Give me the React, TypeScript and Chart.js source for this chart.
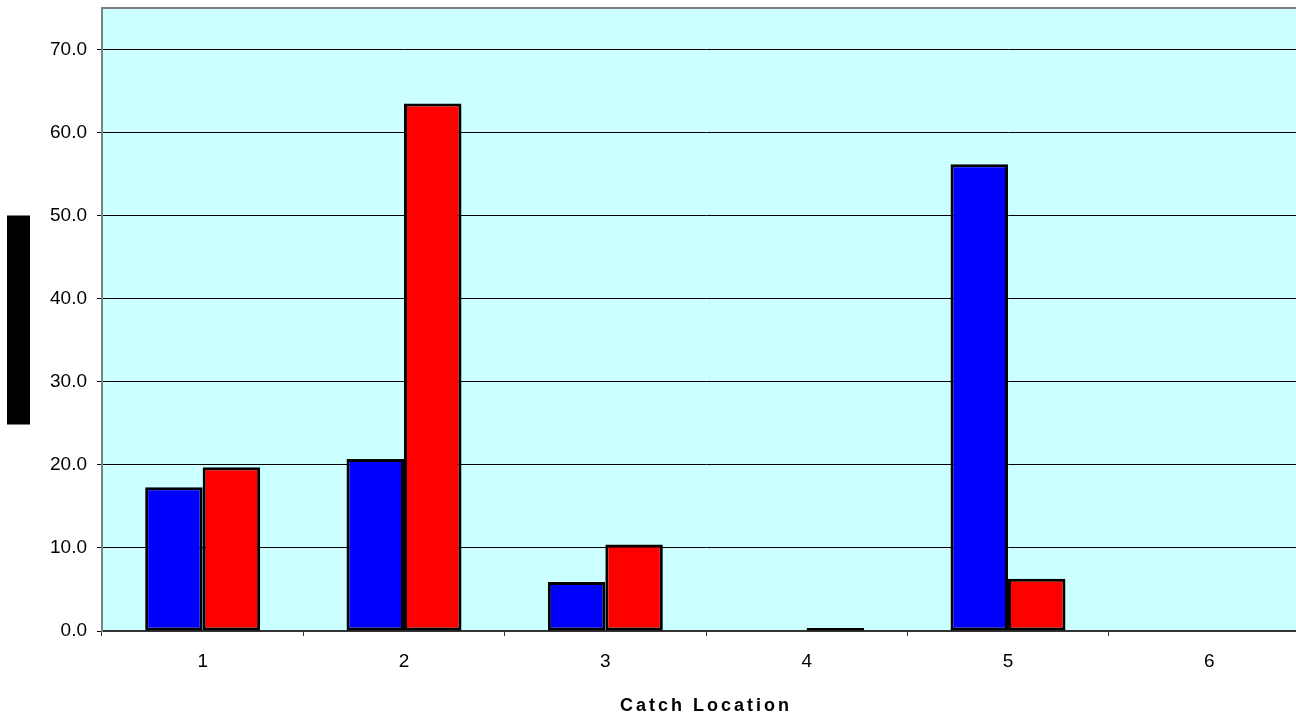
import React, { useEffect, useRef } from "react";
import { Chart, registerables } from "chart.js";

Chart.register(...registerables);

const categories = ["1", "2", "3", "4", "5", "6"];
const blueValues = [17.3, 20.7, 5.9, 0, 56.2, 0];
const redValues = [19.7, 63.5, 10.4, 0.35, 6.3, 0];
const xTitle = "Catch Location";

const FONT = "'Liberation Sans', Arial, sans-serif";

const plotPlugin = {
  id: "plotDeco",
  beforeDraw(chart: any) {
    const { ctx, chartArea } = chart;
    ctx.save();
    ctx.fillStyle = "#CCFFFF";
    ctx.fillRect(chartArea.left, chartArea.top, chartArea.right - chartArea.left, chartArea.bottom - chartArea.top);
    ctx.restore();
  },
  afterDraw(chart: any) {
    const { ctx, chartArea } = chart;
    ctx.save();
    // top border
    ctx.strokeStyle = "#808080";
    ctx.lineWidth = 2;
    ctx.beginPath();
    ctx.moveTo(chartArea.left, chartArea.top);
    ctx.lineTo(chartArea.right, chartArea.top);
    ctx.stroke();
    // obscured y-axis title block
    const mid = (chartArea.top + chartArea.bottom) / 2;
    ctx.fillStyle = "#000";
    ctx.fillRect(7, mid - 104, 23, 209);
    // x axis title with letter spacing
    ctx.fillStyle = "#000";
    ctx.font = `bold 18px ${FONT}`;
    (ctx as any).letterSpacing = "3px";
    ctx.textAlign = "center";
    ctx.textBaseline = "middle";
    ctx.fillText(xTitle, (chartArea.left + chartArea.right) / 2, 706);
    ctx.restore();
  },
};

export default function App() {
  const ref = useRef<HTMLCanvasElement>(null);
  useEffect(() => {
    if (!ref.current) return;
    const chart = new Chart(ref.current, {
      type: "bar",
      data: {
        labels: categories,
        datasets: [
          {
            data: blueValues,
            backgroundColor: "#0000FF",
            borderColor: "#000",
            borderWidth: 3,
            borderSkipped: false,
            categoryPercentage: 0.571,
            barPercentage: 1,
          },
          {
            data: redValues,
            backgroundColor: "#FF0000",
            borderColor: "#000",
            borderWidth: 3,
            borderSkipped: false,
            categoryPercentage: 0.571,
            barPercentage: 1,
          },
        ],
      },
      options: {
        animation: false,
        responsive: false,
        maintainAspectRatio: false,
        layout: { padding: { top: 8, right: 1, left: 0, bottom: 0 } },
        plugins: {
          legend: { display: false },
          tooltip: { enabled: false },
          title: { display: false },
        },
        scales: {
          x: {
            afterFit: (s: any) => {
              s.height = 88;
              s.paddingLeft = 0;
              s.paddingRight = 0;
            },
            grid: {
              offset: true,
              drawOnChartArea: false,
              drawTicks: true,
              tickLength: 5,
              color: "#333",
              lineWidth: 1,
            },
            border: { display: true, color: "#333", width: 2 },
            ticks: {
              color: "#000",
              font: { family: FONT, size: 19 },
              padding: 14,
              maxRotation: 0,
            },
          },
          y: {
            min: 0,
            max: 75,
            afterFit: (s: any) => {
              s.width = 102;
              s.paddingTop = 0;
              s.paddingBottom = 0;
            },
            afterBuildTicks: (s: any) => {
              s.ticks = s.ticks.filter((t: any) => t.value <= 70);
            },
            grid: {
              color: "#000",
              lineWidth: 1,
              drawTicks: true,
              tickLength: 5,
            },
            border: { display: true, color: "#808080", width: 2 },
            ticks: {
              stepSize: 10,
              color: "#000",
              font: { family: FONT, size: 19 },
              padding: 10,
              callback: (v: any) => Number(v).toFixed(1),
            },
          },
        },
      },
      plugins: [plotPlugin],
    });
    return () => chart.destroy();
  }, []);
  return (
    <div style={{ position: "fixed", left: 0, top: 0, width: 1296, height: 719, overflow: "hidden", background: "#fff" }}>
      <canvas ref={ref} width={1311} height={719} style={{ width: 1311, height: 719, display: "block" }} />
    </div>
  );
}
